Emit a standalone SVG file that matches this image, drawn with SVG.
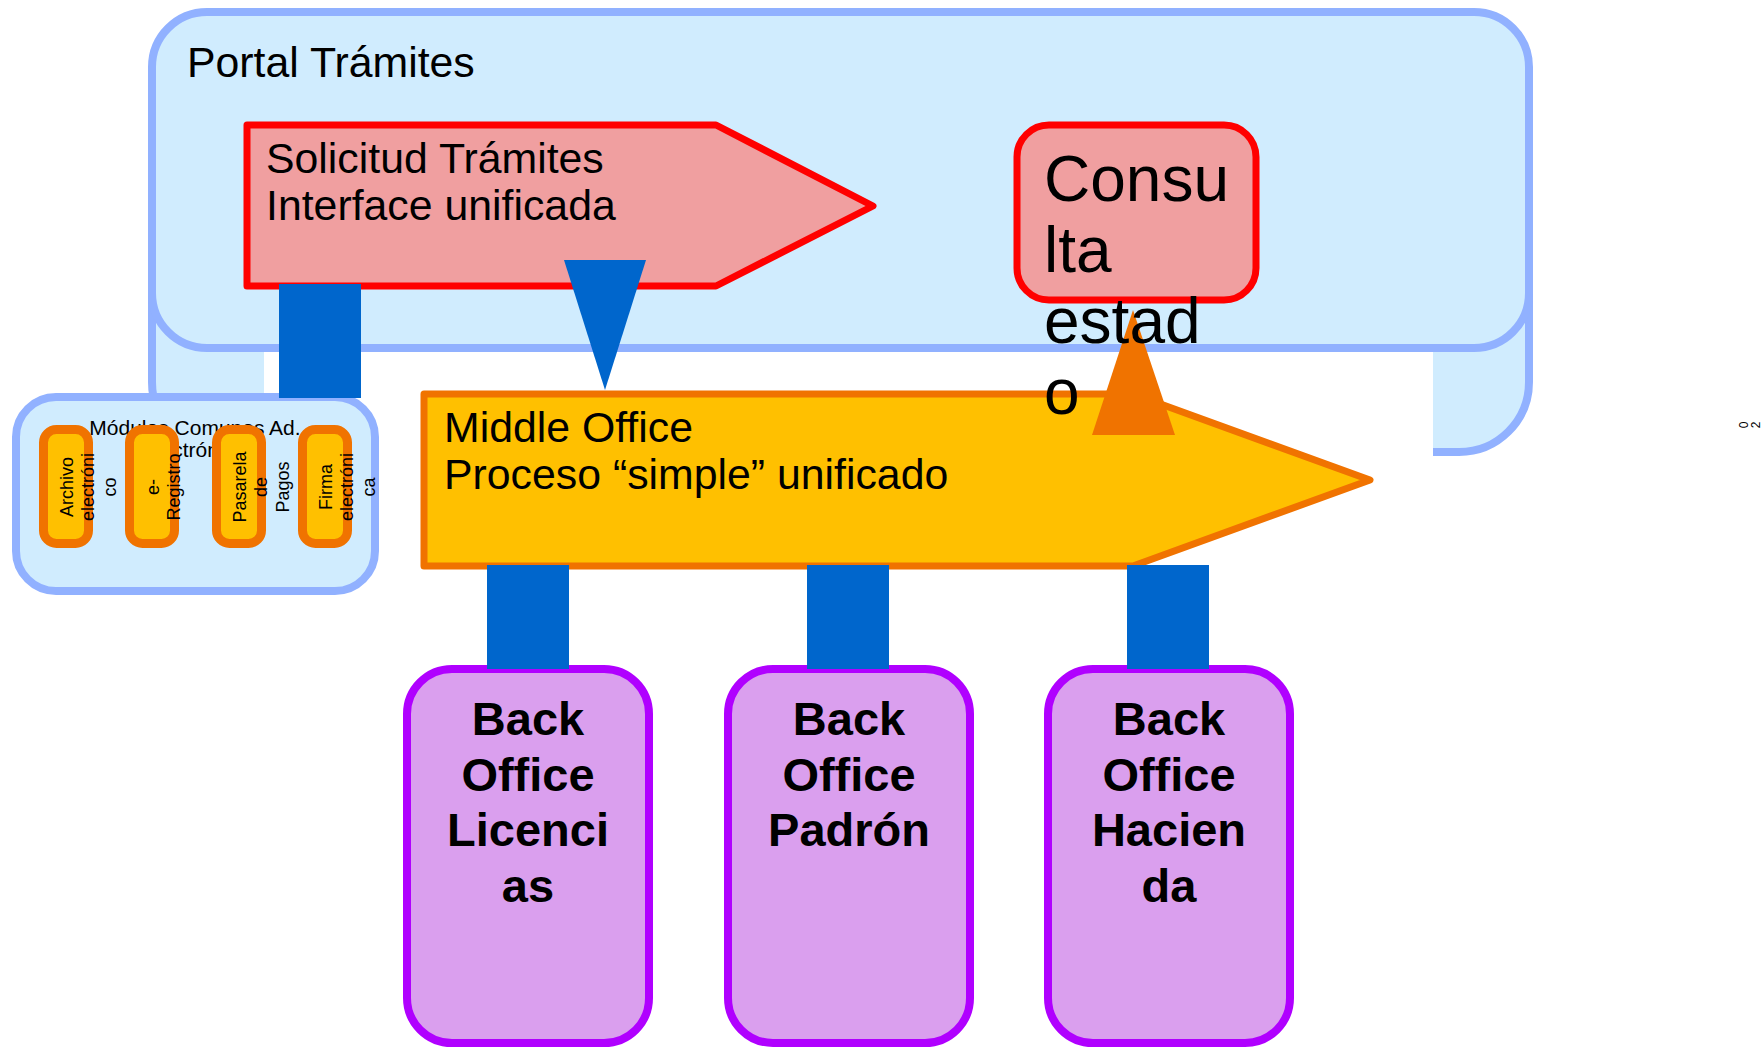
<svg xmlns="http://www.w3.org/2000/svg" width="1764" height="1047" viewBox="0 0 1764 1047">
<style>
text{font-family:"Liberation Sans",Arial,Helvetica,sans-serif;fill:#000}
.portal{fill:#D0ECFE;stroke:#91B1FF;stroke-width:8}
.red{fill:#F09FA0;stroke:#FF0000;stroke-width:7;stroke-linejoin:round}
.mid{fill:#FFC000;stroke:#F07300;stroke-width:7;stroke-linejoin:round}
.sub{fill:#FFC000;stroke:#F07300;stroke-width:9}
.back{fill:#DA9FEE;stroke:#B000FF;stroke-width:8}
.conn{fill:#0066CC}
.t42{font-size:42.8px}
.bo{font-size:47px;font-weight:bold;text-anchor:middle}
.rot{font-size:18px;text-anchor:middle}
</style>
<rect width="1764" height="1047" fill="#FFFFFF"/>
<g id="portal">
<rect class="portal" x="152" y="12" width="1377" height="440" rx="70" ry="70"/>
<rect x="264" y="352" width="1169" height="110" fill="#FFFFFF"/>
<rect class="portal" x="152" y="12" width="1377" height="336" rx="55" ry="55"/>
<text class="t42" x="187" y="77">Portal Trámites</text>
</g>
<g id="solicitud">
<polygon class="red" points="247,125 716,125 873,206 716,286 247,286"/>
<text class="t42"><tspan x="266" y="173">Solicitud Trámites</tspan><tspan x="266" y="220">Interface unificada</tspan></text>
</g>
<g id="consulta">
<rect class="red" x="1017" y="125" width="239" height="175" rx="32" ry="32"/>
</g>
<g id="middle">
<polygon class="mid" points="424,394 1133,394 1370,480 1133,566 424,566"/>
<text class="t42"><tspan x="444" y="442">Middle Office</tspan><tspan x="444" y="489">Proceso “simple” unificado</tspan></text>
</g>
<g id="modulos">
<rect class="portal" x="16" y="397" width="359" height="194" rx="40" ry="40"/>
<text font-size="21" text-anchor="middle"><tspan x="195" y="435">Módulos Comunes Ad.</tspan><tspan x="195" y="457">electrónica</tspan></text>
<g id="archivo">
<rect class="sub" x="43.5" y="429.5" width="45" height="114" rx="13" ry="13"/>
<text class="rot" transform="translate(72.5,487) rotate(-90)"><tspan x="0" y="0">Archivo</tspan><tspan x="0" y="21.5">electróni</tspan><tspan x="0" y="43">co</tspan></text>
</g>
<g id="eregistro">
<rect class="sub" x="129.5" y="429.5" width="45" height="114" rx="13" ry="13"/>
<text class="rot" transform="translate(158.5,487) rotate(-90)"><tspan x="0" y="0">e-</tspan><tspan x="0" y="21.5">Registro</tspan></text>
</g>
<g id="pasarela">
<rect class="sub" x="216.5" y="429.5" width="45" height="114" rx="13" ry="13"/>
<text class="rot" transform="translate(245.5,487) rotate(-90)"><tspan x="0" y="0">Pasarela</tspan><tspan x="0" y="21.5">de</tspan><tspan x="0" y="43">Pagos</tspan></text>
</g>
<g id="firma">
<rect class="sub" x="302.5" y="429.5" width="45" height="114" rx="13" ry="13"/>
<text class="rot" transform="translate(331.5,487) rotate(-90)"><tspan x="0" y="0">Firma</tspan><tspan x="0" y="21.5">electróni</tspan><tspan x="0" y="43">ca</tspan></text>
</g>
</g>
<g id="bo-licencias">
<rect class="back" x="407" y="669" width="242" height="374" rx="45" ry="45"/>
<text class="bo"><tspan x="528" y="735">Back</tspan><tspan x="528" y="790.5">Office</tspan><tspan x="528" y="846">Licenci</tspan><tspan x="528" y="901.5">as</tspan></text>
</g>
<g id="bo-padron">
<rect class="back" x="728" y="669" width="242" height="374" rx="45" ry="45"/>
<text class="bo"><tspan x="849" y="735">Back</tspan><tspan x="849" y="790.5">Office</tspan><tspan x="849" y="846">Padrón</tspan></text>
</g>
<g id="bo-hacienda">
<rect class="back" x="1048" y="669" width="242" height="374" rx="45" ry="45"/>
<text class="bo"><tspan x="1169" y="735">Back</tspan><tspan x="1169" y="790.5">Office</tspan><tspan x="1169" y="846">Hacien</tspan><tspan x="1169" y="901.5">da</tspan></text>
</g>
<g id="connectors">
<rect class="conn" x="279" y="284" width="82" height="114"/>
<polygon class="conn" points="564,260 646,260 605,390"/>
<polygon fill="#F07300" points="1133,310 1175,435 1092,435"/>
<rect class="conn" x="487" y="565" width="82" height="104"/>
<rect class="conn" x="807" y="565" width="82" height="104"/>
<rect class="conn" x="1127" y="565" width="82" height="104"/>
</g>
<g id="consulta-label">
<text font-size="64"><tspan x="1044" y="201">Consu</tspan><tspan x="1044" y="272">lta</tspan><tspan x="1044" y="343">estad</tspan><tspan x="1044" y="414">o</tspan></text>
</g>
<g id="page-number">
<text font-size="12" text-anchor="middle" transform="translate(1748,425) rotate(-90)"><tspan x="0" y="0">0</tspan><tspan x="0" y="12">2</tspan></text>
</g>
</svg>
